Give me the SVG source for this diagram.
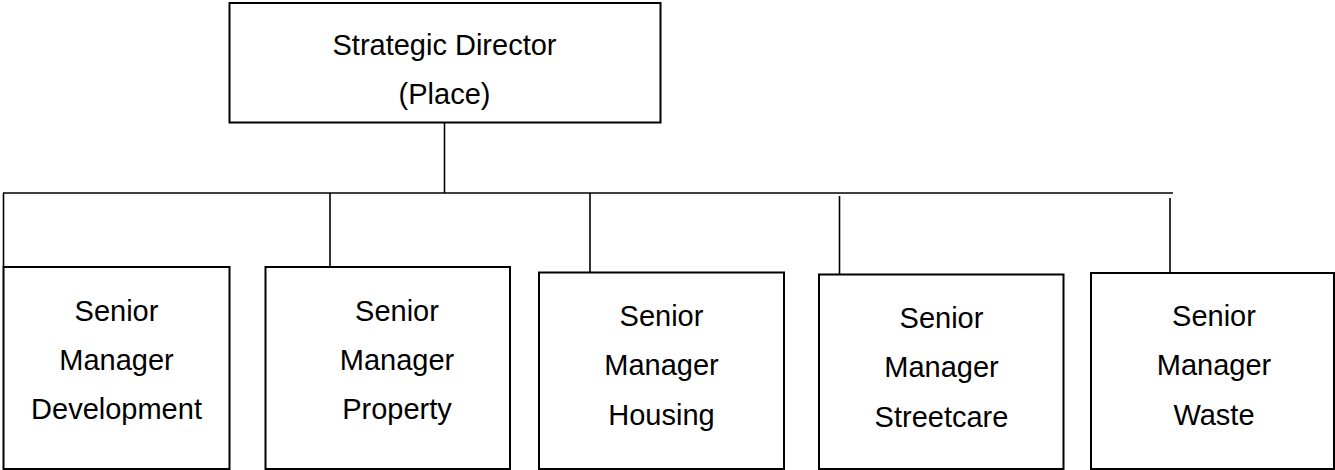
<svg xmlns="http://www.w3.org/2000/svg" width="1335" height="470" viewBox="0 0 1335 470">
<style>
.box{fill:#fff;stroke:#000;stroke-width:2}
.conn line{stroke:#000;stroke-width:1.6}
text{font-family:"Liberation Sans",Arial,sans-serif;font-size:29px;fill:#000;text-anchor:middle}
</style>
<rect width="1335" height="470" fill="#fff"/>
<g id="connectors" class="conn">
<line x1="444.5" y1="123" x2="444.5" y2="193"/>
<line x1="3" y1="193" x2="1173" y2="193"/>
<line x1="3.5" y1="193" x2="3.5" y2="267"/>
<line x1="330" y1="193" x2="330" y2="267"/>
<line x1="590" y1="193" x2="590" y2="272.5"/>
<line x1="839.5" y1="196" x2="839.5" y2="274.5"/>
<line x1="1170" y1="198" x2="1170" y2="275"/>
</g>
<g id="director">
<rect class="box" x="229.5" y="3" width="431" height="119.5"/>
<text x="444.5" y="55">Strategic Director</text>
<text x="444.5" y="104">(Place)</text>
</g>
<g id="development">
<rect class="box" x="3.5" y="267" width="226" height="202"/>
<text x="116.5" y="320.5">Senior</text>
<text x="116.5" y="369.5">Manager</text>
<text x="116.5" y="419">Development</text>
</g>
<g id="property">
<rect class="box" x="265.5" y="267" width="244.5" height="202"/>
<text x="397" y="320.5">Senior</text>
<text x="397" y="369.5">Manager</text>
<text x="397" y="418.5">Property</text>
</g>
<g id="housing">
<rect class="box" x="539" y="272.5" width="245" height="196.5"/>
<text x="661.5" y="326">Senior</text>
<text x="661.5" y="375">Manager</text>
<text x="661.5" y="425">Housing</text>
</g>
<g id="streetcare">
<rect class="box" x="819" y="274.5" width="244.5" height="194.5"/>
<text x="941.5" y="328">Senior</text>
<text x="941.5" y="377">Manager</text>
<text x="941.5" y="427">Streetcare</text>
</g>
<g id="waste">
<rect class="box" x="1091" y="273" width="243" height="196"/>
<text x="1214" y="325.5">Senior</text>
<text x="1214" y="375">Manager</text>
<text x="1214" y="425">Waste</text>
</g>
</svg>
